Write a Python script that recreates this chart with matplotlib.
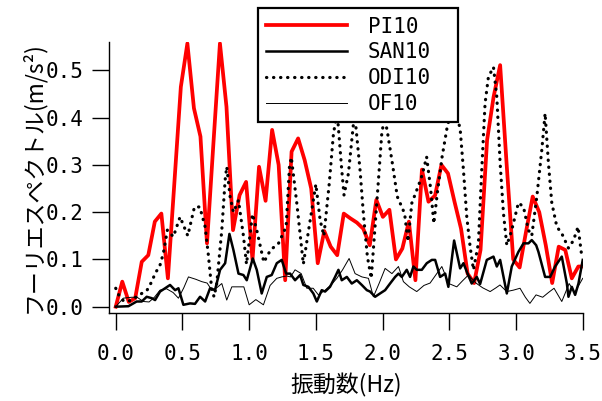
import numpy as np
import matplotlib
matplotlib.use("Agg")
import matplotlib.pyplot as plt

# PI10 spectrum
pi_f = [0.000, 0.049, 0.098, 0.146, 0.195, 0.244, 0.293, 0.342, 0.391, 0.439,
        0.488, 0.537, 0.586, 0.635, 0.684, 0.732, 0.781, 0.830, 0.879, 0.928,
        0.977, 1.025, 1.074, 1.123, 1.172, 1.221, 1.270, 1.318, 1.367, 1.416,
        1.465, 1.514, 1.563, 1.611, 1.660, 1.709, 1.758, 1.807, 1.855, 1.904,
        1.953, 2.002, 2.051, 2.100, 2.148, 2.197, 2.246, 2.295, 2.344, 2.393,
        2.441, 2.490, 2.539, 2.588, 2.637, 2.686, 2.734, 2.783, 2.832, 2.881,
        2.930, 2.979, 3.027, 3.076, 3.125, 3.174, 3.223, 3.271, 3.320, 3.369,
        3.418, 3.467, 3.516]
pi_v = [0.000, 0.053, 0.010, 0.018, 0.095, 0.109, 0.180, 0.197, 0.060, 0.260,
        0.465, 0.557, 0.420, 0.360, 0.134, 0.345, 0.557, 0.423, 0.162, 0.236,
        0.264, 0.099, 0.296, 0.224, 0.374, 0.300, 0.056, 0.328, 0.356, 0.310,
        0.250, 0.092, 0.160, 0.127, 0.109, 0.197, 0.187, 0.178, 0.165, 0.130,
        0.226, 0.190, 0.205, 0.100, 0.123, 0.180, 0.056, 0.290, 0.222, 0.235,
        0.300, 0.282, 0.222, 0.165, 0.070, 0.050, 0.120, 0.352, 0.444, 0.511,
        0.300, 0.100, 0.083, 0.160, 0.233, 0.200, 0.130, 0.050, 0.127, 0.120,
        0.060, 0.085, 0.085]

# SAN10
san_f = [0.0, 0.095, 0.157, 0.195, 0.232, 0.27, 0.295, 0.332, 0.37, 0.407,
         0.445, 0.47, 0.507, 0.557, 0.594, 0.632, 0.67, 0.707, 0.744, 0.782,
         0.82, 0.852, 0.882, 0.92, 0.957, 0.982, 1.027, 1.057, 1.094, 1.132,
         1.169, 1.207, 1.244, 1.277, 1.307, 1.344, 1.382, 1.406, 1.444, 1.481,
         1.507, 1.544, 1.569, 1.606, 1.644, 1.669, 1.694, 1.732, 1.769, 1.807,
         1.844, 1.882, 1.906, 1.944, 1.981, 2.019, 2.056, 2.094, 2.119, 2.144,
         2.181, 2.206, 2.231, 2.256, 2.294, 2.331, 2.369, 2.394, 2.431, 2.469,
         2.493, 2.536, 2.581, 2.606, 2.631, 2.668, 2.706, 2.731, 2.781, 2.831,
         2.856, 2.881, 2.931, 2.968, 3.018, 3.056, 3.093, 3.118, 3.151, 3.168,
         3.218, 3.256, 3.293, 3.343, 3.381, 3.393, 3.418, 3.443, 3.468, 3.5]
san_v = [0.0, 0.001, 0.011, 0.011, 0.021, 0.018, 0.014, 0.032, 0.039, 0.046,
         0.035, 0.039, 0.004, 0.007, 0.006, 0.021, 0.011, 0.039, 0.035, 0.078,
         0.092, 0.154, 0.12, 0.07, 0.067, 0.056, 0.102, 0.078, 0.028, 0.063,
         0.067, 0.092, 0.099, 0.07, 0.07, 0.056, 0.067, 0.046, 0.042, 0.028,
         0.011, 0.035, 0.032, 0.042, 0.063, 0.078, 0.056, 0.063, 0.049, 0.056,
         0.046, 0.035, 0.032, 0.021, 0.028, 0.035, 0.049, 0.063, 0.07, 0.063,
         0.078, 0.063, 0.085, 0.078, 0.078, 0.092, 0.099, 0.099, 0.063, 0.07,
         0.042, 0.14, 0.081, 0.092, 0.074, 0.049, 0.063, 0.048, 0.099, 0.106,
         0.085, 0.099, 0.028, 0.085, 0.116, 0.134, 0.134, 0.141, 0.13, 0.116,
         0.063, 0.063, 0.085, 0.106, 0.049, 0.021, 0.042, 0.025, 0.049, 0.099]

# ODI10
odi_f = [0.0, 0.03, 0.06, 0.1, 0.15, 0.195, 0.235, 0.27, 0.295, 0.332,
         0.357, 0.387, 0.432, 0.482, 0.54, 0.59, 0.63, 0.67, 0.694, 0.72,
         0.737, 0.757, 0.795, 0.82, 0.832, 0.857, 0.882, 0.92, 0.957, 0.98,
         1.025, 1.057, 1.11, 1.16, 1.22, 1.277, 1.302, 1.316, 1.357, 1.406,
         1.45, 1.5, 1.532, 1.56, 1.6, 1.632, 1.66, 1.694, 1.711, 1.744,
         1.769, 1.79, 1.831, 1.856, 1.886, 1.915, 1.969, 1.994, 2.015, 2.036,
         2.075, 2.11, 2.144, 2.165, 2.19, 2.219, 2.27, 2.298, 2.33, 2.36,
         2.384, 2.41, 2.446, 2.484, 2.53, 2.581, 2.606, 2.631, 2.656, 2.681,
         2.718, 2.743, 2.768, 2.793, 2.831, 2.856, 2.881, 2.906, 2.931, 2.968,
         3.018, 3.056, 3.093, 3.118, 3.156, 3.193, 3.218, 3.243, 3.268, 3.306,
         3.343, 3.393, 3.43, 3.465, 3.493]
odi_v = [0.039, 0.02, 0.012, 0.012, 0.02, 0.028, 0.035, 0.053, 0.07, 0.088,
         0.113, 0.162, 0.148, 0.19, 0.15, 0.211, 0.211, 0.169, 0.11, 0.035,
         0.021, 0.049, 0.162, 0.268, 0.296, 0.233, 0.2, 0.225, 0.15, 0.09,
         0.196, 0.162, 0.094, 0.12, 0.134, 0.169, 0.296, 0.316, 0.219, 0.09,
         0.17, 0.259, 0.183, 0.15, 0.26, 0.367, 0.41, 0.289, 0.236, 0.282,
         0.352, 0.41, 0.289, 0.197, 0.106, 0.06, 0.268, 0.367, 0.40, 0.37,
         0.3, 0.233, 0.211, 0.197, 0.138, 0.219, 0.257, 0.28, 0.317, 0.25,
         0.176, 0.24, 0.317, 0.38, 0.43, 0.377, 0.289, 0.19, 0.127, 0.078,
         0.134, 0.289, 0.43, 0.486, 0.507, 0.444, 0.303, 0.197, 0.13, 0.162,
         0.22, 0.211, 0.162, 0.15, 0.233, 0.331, 0.409, 0.303, 0.22, 0.169,
         0.155, 0.124, 0.14, 0.169, 0.106]

# OF10
of_f = [0.0, 0.057, 0.12, 0.16, 0.207, 0.25, 0.29, 0.332, 0.38, 0.43,
        0.47, 0.51, 0.545, 0.6, 0.645, 0.685, 0.72, 0.757, 0.795, 0.832,
        0.87, 0.92, 0.96, 1.0, 1.05, 1.107, 1.157, 1.207, 1.244, 1.28,
        1.31, 1.344, 1.39, 1.432, 1.48, 1.519, 1.57, 1.62, 1.657, 1.7,
        1.749, 1.794, 1.845, 1.894, 1.931, 1.975, 2.019, 2.07, 2.119, 2.156,
        2.2, 2.256, 2.31, 2.356, 2.406, 2.444, 2.496, 2.556, 2.6, 2.643,
        2.7, 2.75, 2.806, 2.85, 2.88, 2.93, 2.98, 3.03, 3.07, 3.104,
        3.15, 3.2, 3.243, 3.285, 3.343, 3.398, 3.44, 3.5]
of_v = [0.0, 0.018, 0.02, 0.02, 0.011, 0.01, 0.02, 0.035, 0.038, 0.03,
        0.018, 0.04, 0.063, 0.058, 0.053, 0.05, 0.035, 0.04, 0.049, 0.014,
        0.042, 0.042, 0.042, 0.004, 0.015, 0.004, 0.045, 0.06, 0.063, 0.065,
        0.063, 0.078, 0.07, 0.039, 0.039, 0.025, 0.035, 0.048, 0.06, 0.078,
        0.102, 0.07, 0.063, 0.06, 0.021, 0.05, 0.081, 0.07, 0.085, 0.053,
        0.042, 0.032, 0.045, 0.05, 0.07, 0.085, 0.049, 0.042, 0.055, 0.067,
        0.05, 0.04, 0.032, 0.04, 0.046, 0.032, 0.035, 0.039, 0.02, 0.007,
        0.025, 0.02, 0.03, 0.039, 0.011, 0.049, 0.03, 0.06]

xticks = [0.0, 0.5, 1.0, 1.5, 2.0, 2.5, 3.0, 3.5]
yticks = [0.0, 0.1, 0.2, 0.3, 0.4, 0.5]

mono = "DejaVu Sans Mono"
jp = ["Noto Sans CJK JP", "DejaVu Sans"]

fig = plt.figure(figsize=(6.02, 4.01), dpi=100)
ax = fig.add_axes([0.1816, 0.2202, 0.7864, 0.6751])

ax.plot(pi_f, pi_v, color="#ff0000", lw=2.7, label="PI10")
ax.plot(san_f, san_v, color="black", lw=1.8, label="SAN10")
ax.plot(odi_f, odi_v, color="black", lw=2.3, linestyle=(0, (0.1, 2.1)),
        dash_capstyle="round", label="ODI10")
ax.plot(of_f, of_v, color="black", lw=0.7, label="OF10")

ax.set_xlim(-0.048, 3.5)
ax.set_ylim(-0.0127, 0.56)
ax.set_xticks(xticks)
ax.set_yticks(yticks)
ax.set_xticklabels(["%.1f" % t for t in xticks], family=mono, fontsize=15)
ax.set_yticklabels(["%.1f" % t for t in yticks], family=mono, fontsize=15)

for s in ["top", "right"]:
    ax.spines[s].set_visible(False)
for s in ["left", "bottom"]:
    ax.spines[s].set_linewidth(1.0)
ax.tick_params(axis="both", direction="out", length=12.5, width=1.0)
ax.tick_params(axis="x", pad=10)
ax.tick_params(axis="y", pad=6)

ax.set_xlabel("振動数(Hz)", family=jp, fontsize=16.5)
ax.xaxis.label.set_va("center")
ax.xaxis.set_label_coords(0.5, -0.267)
ax.set_ylabel("フーリエスペクトル(m/s²)", family=jp, fontsize=16.5)
ax.yaxis.label.set_va("center")
ax.yaxis.set_label_coords(-0.162, 0.5)

leg = ax.legend(loc="upper left",
                bbox_to_anchor=(257.7 / 602, 1 - 121.7 / 401, 200.3 / 602, 113.4 / 401),
                bbox_transform=fig.transFigure, mode="expand",
                prop={"family": mono, "size": 15},
                fancybox=False, framealpha=1, edgecolor="black",
                handlelength=3.9, handletextpad=1.0, labelspacing=0.28,
                borderpad=0.40, borderaxespad=0)
leg.get_frame().set_linewidth(1.6)
leg.set_zorder(10)

fig.savefig("out.png", dpi=100)
